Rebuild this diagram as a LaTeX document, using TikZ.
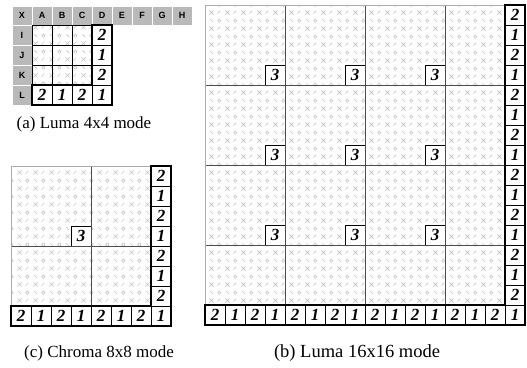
\documentclass[tikz,border=0pt]{standalone}
\usepackage{fontspec}
\setmainfont{Liberation Serif}
\newfontfamily\hdfont{Liberation Sans}
\usetikzlibrary{patterns.meta}

\tikzdeclarepattern{
  name=mytex,
  type=uncolored,
  bounding box={(0pt,0pt) and (16pt,16pt)},
  tile size={(16pt,16pt)},
  code={
    \draw[line width=0.5pt] (1.5pt,1.5pt) -- (6pt,6pt) (1.5pt,6pt) -- (6pt,1.5pt);
    \draw[line width=0.5pt] (12pt,12pt) circle (1.8pt);
    \draw[line width=0.5pt] (10pt,2.5pt) -- (13pt,5.5pt);
    \draw[line width=0.5pt] (2.5pt,13.5pt) -- (5.5pt,10.5pt);
  }
}

\tikzset{
  texfill/.style={pattern={mytex}, pattern color=gray!55},
  num/.style={font=\fontsize{17}{17}\selectfont\bfseries\itshape, inner sep=0pt, anchor=center},
  cellline/.style={line width=0.6pt, black},
  heavy/.style={line width=2pt, line join=miter, black},
  blk/.style={line width=0.7pt, gray!60!black},
  rim/.style={line width=0.8pt, gray!65},
  hdr/.style={fill=gray!55, draw=white, line width=0.8pt},
  hdtxt/.style={font=\hdfont\bfseries\fontsize{9}{9}\selectfont, inner sep=0pt},
  captxt/.style={font=\fontsize{17}{17}\selectfont, inner sep=0pt},
  captxtb/.style={font=\fontsize{18.5}{18.5}\selectfont, inner sep=0pt}
}

\begin{document}
\begin{tikzpicture}[x=1pt,y=-1pt]
\useasboundingbox (0,0) rectangle (527,367);

% ---------------- (a) Luma 4x4 ----------------
\begin{scope}[shift={(12,6)}]
  \foreach \l [count=\k from 0] in {X,A,B,C,D,E,F,G,H} {
    \draw[hdr] ({20*\k},0) rectangle ({20*\k+20},19);
    \node[hdtxt] (ah\k) at ({20*\k+10},9.5) {\l};
  }
  \foreach \l [count=\k from 0] in {I,J,K,L} {
    \draw[hdr] (0,{19+20*\k}) rectangle (20,{39+20*\k});
    \node[hdtxt] (av\k) at (10,{29+20*\k}) {\l};
  }
  \fill[texfill] (20,19) rectangle (80,79);
  \foreach \k in {0,1,2} {
    \draw[cellline] (20,{19+20*\k}) rectangle (80,{39+20*\k});
  }
  \foreach \k in {1,2} {
    \draw[cellline] ({20+20*\k},19) -- ({20+20*\k},79);
  }
  \foreach \v [count=\k from 0] in {2,1,2} {
    \draw[cellline] (80,{19+20*\k}) rectangle (100,{39+20*\k});
    \node[num] (ar\k) at (90,{29+20*\k}) {\v};
  }
  \foreach \v [count=\k from 0] in {2,1,2,1} {
    \draw[cellline] ({20+20*\k},79) rectangle ({40+20*\k},99);
    \node[num] (ab\k) at ({30+20*\k},89) {\v};
  }
  \draw[heavy] (80,19) -- (100,19) -- (100,99) -- (20,99) -- (20,79) -- (80,79) -- cycle;
\end{scope}
\node[captxt] (capa) at (84,124) {(a) Luma 4x4 mode};

% ---------------- (c) Chroma 8x8 ----------------
\begin{scope}[shift={(11,166)}]
  \fill[texfill] (0,0) rectangle (140,140);
  \fill[white] (60,60) rectangle (80,80);
  \draw[cellline] (60,80) -- (60,60) -- (80,60);
  \node[num] (c3) at (70,70) {3};
  \draw[blk] (80,0) -- (80,140) (0,80) -- (140,80);
  \draw[rim] (0,140) -- (0,0) -- (140,0);
  \foreach \k in {0,...,6} {
    \pgfmathtruncatemacro{\v}{mod(\k,2)==0 ? 2 : 1}
    \draw[cellline] (140,{20*\k}) rectangle (160,{20*\k+20});
    \node[num] (cr\k) at (150,{20*\k+10}) {\v};
  }
  \foreach \k in {0,...,7} {
    \pgfmathtruncatemacro{\v}{mod(\k,2)==0 ? 2 : 1}
    \draw[cellline] ({20*\k},140) rectangle ({20*\k+20},160);
    \node[num] (cb\k) at ({20*\k+10},150) {\v};
  }
  \draw[heavy] (140,0) -- (160,0) -- (160,160) -- (0,160) -- (0,140) -- (140,140) -- cycle;
\end{scope}
\node[captxt] (capc) at (99,353) {(c) Chroma 8x8 mode};

% ---------------- (b) Luma 16x16 ----------------
\begin{scope}[shift={(205,5)}]
  \fill[texfill] (0,0) rectangle (300,300);
  \foreach \i in {0,1,2} {
    \foreach \j in {0,1,2} {
      \fill[white] ({80*\i+60},{80*\j+60}) rectangle ({80*\i+80},{80*\j+80});
      \draw[cellline] ({80*\i+60},{80*\j+80}) -- ({80*\i+60},{80*\j+60}) -- ({80*\i+80},{80*\j+60});
      \node[num] (b3-\i-\j) at ({80*\i+70},{80*\j+70}) {3};
    }
  }
  \draw[blk] (80,0) -- (80,300) (160,0) -- (160,300) (240,0) -- (240,300)
             (0,80) -- (300,80) (0,160) -- (300,160) (0,240) -- (300,240);
  \draw[rim] (0,300) -- (0,0) -- (300,0);
  \foreach \k in {0,...,14} {
    \pgfmathtruncatemacro{\v}{mod(\k,2)==0 ? 2 : 1}
    \draw[cellline] (300,{20*\k}) rectangle (320,{20*\k+20});
    \node[num] (br\k) at (310,{20*\k+10}) {\v};
  }
  \foreach \k in {0,...,15} {
    \pgfmathtruncatemacro{\v}{mod(\k,2)==0 ? 2 : 1}
    \draw[cellline] ({20*\k},300) rectangle ({20*\k+20},320);
    \node[num] (bb\k) at ({20*\k+10},310) {\v};
  }
  \draw[heavy] (300,0) -- (320,0) -- (320,320) -- (0,320) -- (0,300) -- (300,300) -- cycle;
\end{scope}
\node[captxtb] (capb) at (357,353) {(b) Luma 16x16 mode};
\end{tikzpicture}
\end{document}
